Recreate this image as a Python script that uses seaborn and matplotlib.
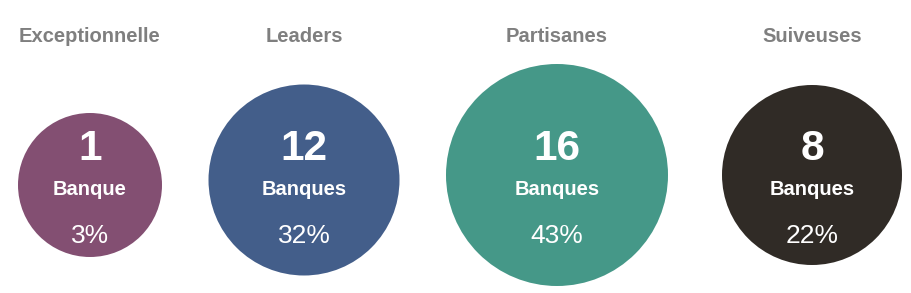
import matplotlib
matplotlib.use("Agg")
import matplotlib.pyplot as plt
import seaborn as sns
import pandas as pd

categories = ["Exceptionnelle", "Leaders", "Partisanes", "Suiveuses"]
counts = [1, 12, 16, 8]
units = ["Banque", "Banques", "Banques", "Banques"]
percents = [3, 32, 43, 22]

# layout (pixels)
x_pos = [90, 304, 557, 812]
y_pos = [185, 180, 175, 175]
radii = [72, 95.5, 111, 90]
colors = ["#834F72", "#435E8A", "#459888", "#302B26"]

sns.set_theme(style="white")
plt.rcParams["font.family"] = ["Liberation Sans", "DejaVu Sans"]

df = pd.DataFrame({"cat": categories, "x": x_pos, "y": y_pos, "r": radii})

fig = plt.figure(figsize=(9.11, 2.93), dpi=100)
ax = fig.add_axes([0, 0, 1, 1])
sizes = [(2 * r * 0.72) ** 2 for r in radii]
sns.scatterplot(data=df, x="x", y="y", hue="cat", palette=dict(zip(categories, colors)),
                s=sizes, linewidth=0, legend=False, ax=ax)
ax.set_xlim(0, 911)
ax.set_ylim(293, 0)
ax.set_axis_off()

for cat, n, u, p, x in zip(categories, counts, units, percents, x_pos):
    ax.text(x, 42, cat, ha="center", va="baseline", fontsize=14.5, fontweight="bold", color="#7F7F7F")
    ax.text(x, 160, str(n), ha="center", va="baseline", fontsize=30.5, fontweight="bold", color="white")
    ax.text(x, 195, u, ha="center", va="baseline", fontsize=14.5, fontweight="bold", color="white")
    ax.text(x, 243, f"{p}%", ha="center", va="baseline", fontsize=19, color="white")

fig.savefig("out.png", dpi=100)
